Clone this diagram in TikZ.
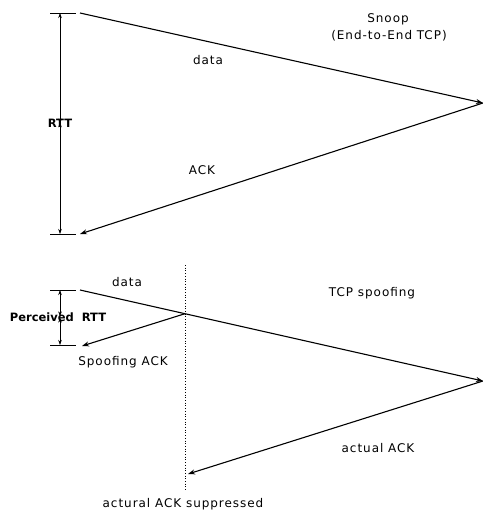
\documentclass[tikz,border=0pt]{standalone}
\usepackage{fontspec}
\setmainfont{DejaVu Sans}
\newfontfamily\lblfont[LetterSpace=8]{DejaVu Sans}
\usetikzlibrary{arrows.meta}
\begin{document}
\begin{tikzpicture}[x=1pt,y=-1pt,
  lbl/.style={font=\lblfont\fontsize{12}{14}\selectfont, inner sep=0pt},
  blbl/.style={font=\fontsize{11.5}{13}\selectfont\bfseries, inner sep=0pt},
  msg/.style={line width=1.1pt, -{Stealth[length=7pt,width=5pt]}},
  tick/.style={line width=0.8pt},
  dim/.style={line width=0.5pt, {Stealth[length=5pt,width=3.5pt]}-{Stealth[length=5pt,width=3.5pt]}}]
\useasboundingbox (0,0) rectangle (482,514);
% top diagram
\coordinate (s1) at (80,13);
\coordinate (r1) at (483,103);
\coordinate (e1) at (80,234);
\coordinate (t1a) at (50,13); \coordinate (t1b) at (76,13);
\coordinate (t2a) at (50,234); \coordinate (t2b) at (76,234);
\draw[tick] (t1a) -- (t1b);
\draw[tick] (t2a) -- (t2b);
\draw[msg] (s1) -- (r1);
\draw[msg] (r1) -- (e1);
\node[blbl] (rtt) at (60,123) {RTT};
\coordinate (d1a) at (60,13); \coordinate (d1b) at (60,234);
\draw[dim] (d1a) -- ([yshift=-5pt]rtt.north -| d1a);
\draw[dim] (d1b) -- ([yshift=5pt]rtt.south -| d1b);
\node[lbl] (data1) at (208,60) {data};
\node[lbl] (ack1) at (202,170) {ACK};
\node[lbl] (snoop) at (388,19) {Snoop};
\node[lbl] (e2e) at (389,36) {(End-to-End TCP)};
% bottom diagram
\coordinate (s2) at (80,290);
\coordinate (r2) at (483,381);
\coordinate (x2) at (185,313.7);
\coordinate (e2) at (82,346);
\coordinate (a2) at (188,474);
\coordinate (v2a) at (185,265); \coordinate (v2b) at (185,490);
\draw[line width=0.7pt, dotted] (v2a) -- (v2b);
\draw[tick] (50,290) -- (76,290);
\draw[tick] (50,345) -- (76,345);
\draw[msg] (s2) -- (r2);
\draw[msg] (x2) -- (e2);
\draw[msg] (r2) -- (a2);
\node[blbl] (prtt) at (58,317) {Perceived\ \ RTT};
\coordinate (d2a) at (60,290); \coordinate (d2b) at (60,345);
\draw[dim] (d2a) -- ([yshift=-4pt]prtt.north -| d2a);
\draw[dim] (d2b) -- ([yshift=4pt]prtt.south -| d2b);
\node[lbl] (data2) at (127,282) {data};
\node[lbl] (spack) at (123,362) {Spoofing ACK};
\node[lbl] (tcpsp) at (372,293) {TCP spoofing};
\node[lbl] (aack) at (378,448) {actual ACK};
\node[lbl] (supp) at (183,504) {actural ACK suppressed};
\end{tikzpicture}
\end{document}
